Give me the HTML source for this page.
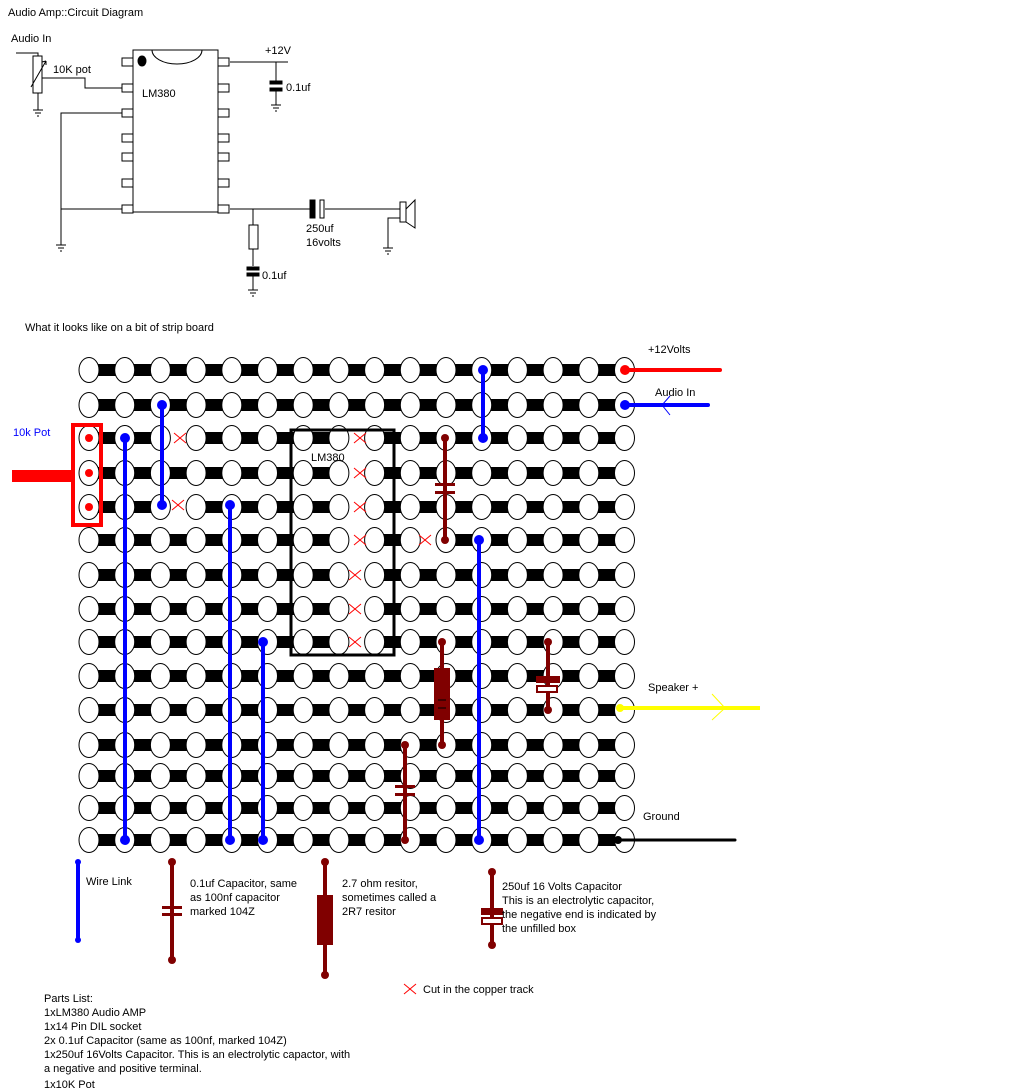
<!DOCTYPE html>
<html><head><meta charset="utf-8"><style>
body{margin:0;background:#fff;width:1024px;height:1090px;overflow:hidden}
svg{display:block}
text{font-family:"Liberation Sans",sans-serif;font-size:11px;fill:#000}
</style></head><body>
<svg id="s" width="1024" height="1090" viewBox="0 0 1024 1090" xmlns="http://www.w3.org/2000/svg">
<g id="sch" stroke="#000" stroke-width="1" fill="none">
<text x="8" y="16" stroke="none">Audio Amp::Circuit Diagram</text>
<text x="11" y="42" stroke="none">Audio In</text>
<text x="53" y="73" stroke="none">10K pot</text>
<text x="142" y="97" stroke="none">LM380</text>
<text x="265" y="54" stroke="none">+12V</text>
<text x="286" y="91" stroke="none">0.1uf</text>
<text x="262" y="279" stroke="none">0.1uf</text>
<text x="306" y="232" stroke="none">250uf</text>
<text x="306" y="246" stroke="none">16volts</text>
<rect x="133" y="50" width="85" height="162"/>
<path d="M152 50 A25 14 0 0 0 202 50"/>
<ellipse cx="142" cy="61" rx="4" ry="5" fill="#000"/>
<g id="pins"></g>
<path d="M16 53H38V56"/><rect x="33" y="56" width="9" height="37"/><path d="M31 87L46 61M46 61l-4 1M46 61l0 4"/>
<path d="M42 78H85V88H122M38 93V110"/>
<path d="M122 113H61V245M61 209H122"/>
<path d="M230 62H288M276 62V81M276 91V105"/>
<rect x="270" y="81" width="12" height="3" fill="#000"/><rect x="270" y="88" width="12" height="3" fill="#000"/>
<path d="M230 209H310M325 209H400"/>
<rect x="310" y="200" width="5" height="18" fill="#000"/><rect x="320" y="200" width="4" height="18"/>
<rect x="400" y="202" width="6" height="20"/><path d="M406 209L415 200V228L406 222"/>
<path d="M400 218H388V248M253 209V225M253 249V266M253 276V290"/>
<rect x="249" y="225" width="9" height="24"/>
<rect x="247" y="267" width="12" height="3" fill="#000"/><rect x="247" y="273" width="12" height="3" fill="#000"/>
<g id="gnds"></g>
</g>
<text x="25" y="331">What it looks like on a bit of strip board</text>
<g id="board"></g>
<g id="over">
<rect x="291" y="430" width="103" height="225" fill="none" stroke="#000" stroke-width="3"/>
<text x="311" y="461">LM380</text>
<rect x="73" y="425" width="28" height="100" fill="none" stroke="#f00" stroke-width="4"/>
<rect x="12" y="470" width="61" height="12" fill="#f00"/>
<circle cx="89" cy="438" r="4" fill="#f00"/><circle cx="89" cy="473" r="4" fill="#f00"/><circle cx="89" cy="507" r="4" fill="#f00"/>
<text x="13" y="436" style="fill:#00f">10k Pot</text>
<g stroke="#00f" stroke-width="4" stroke-linecap="round">
<line x1="125" y1="438" x2="125" y2="840"/><line x1="162" y1="405" x2="162" y2="505"/>
<line x1="230" y1="505" x2="230" y2="840"/><line x1="263" y1="642" x2="263" y2="840"/>
<line x1="483" y1="370" x2="483" y2="438"/><line x1="479" y1="540" x2="479" y2="840"/>
<line x1="78" y1="862" x2="78" y2="940"/>
</g>
<g fill="#00f">
<circle cx="125" cy="438" r="5"/><circle cx="125" cy="840" r="5"/><circle cx="162" cy="405" r="5"/><circle cx="162" cy="505" r="5"/>
<circle cx="230" cy="505" r="5"/><circle cx="230" cy="840" r="5"/><circle cx="263" cy="642" r="5"/><circle cx="263" cy="840" r="5"/>
<circle cx="483" cy="370" r="5"/><circle cx="483" cy="438" r="5"/><circle cx="479" cy="540" r="5"/><circle cx="479" cy="840" r="5"/>
<circle cx="78" cy="862" r="3"/><circle cx="78" cy="940" r="3"/>
</g>
<g stroke="#800000" stroke-width="4" fill="#800000">
<line x1="445" y1="438" x2="445" y2="540"/><rect x="435" y="483" width="20" height="3" stroke="none"/><rect x="435" y="491" width="20" height="3" stroke="none"/>
<line x1="442" y1="642" x2="442" y2="745"/><rect x="434" y="668" width="16" height="52" stroke="none"/>
<line x1="405" y1="745" x2="405" y2="840"/><rect x="395" y="785" width="20" height="3" stroke="none"/><rect x="395" y="793" width="20" height="3" stroke="none"/>
<line x1="548" y1="642" x2="548" y2="710"/><rect x="536" y="676" width="24" height="7" stroke="none"/><rect x="537" y="686" width="20" height="6" fill="#fff" stroke-width="2"/>
<line x1="172" y1="862" x2="172" y2="960"/><rect x="162" y="906" width="20" height="3" stroke="none"/><rect x="162" y="913" width="20" height="3" stroke="none"/>
<line x1="325" y1="862" x2="325" y2="975"/><rect x="317" y="895" width="16" height="50" stroke="none"/>
<line x1="492" y1="872" x2="492" y2="945"/><rect x="481" y="908" width="22" height="7" stroke="none"/><rect x="482" y="918" width="20" height="6" fill="#fff" stroke-width="2"/>
</g>
<g fill="#800000">
<circle cx="445" cy="438" r="4"/><circle cx="445" cy="540" r="4"/><circle cx="442" cy="642" r="4"/><circle cx="442" cy="745" r="4"/>
<circle cx="405" cy="745" r="4"/><circle cx="405" cy="840" r="4"/><circle cx="548" cy="642" r="4"/><circle cx="548" cy="710" r="4"/>
<circle cx="172" cy="862" r="4"/><circle cx="172" cy="960" r="4"/><circle cx="325" cy="862" r="4"/><circle cx="325" cy="975" r="4"/>
<circle cx="492" cy="872" r="4"/><circle cx="492" cy="945" r="4"/>
</g>
<line x1="438" y1="700" x2="446" y2="700" stroke="#000"/><line x1="438" y1="708" x2="446" y2="708" stroke="#000"/>
<line x1="625" y1="370" x2="720" y2="370" stroke="#f00" stroke-width="4" stroke-linecap="round"/><circle cx="625" cy="370" r="5" fill="#f00"/>
<text x="648" y="353">+12Volts</text>
<line x1="625" y1="405" x2="708" y2="405" stroke="#00f" stroke-width="4" stroke-linecap="round"/><circle cx="625" cy="405" r="5" fill="#00f"/>
<path d="M670 396L662 405L670 415" stroke="#00f" fill="none"/>
<text x="655" y="396">Audio In</text>
<line x1="620" y1="708" x2="760" y2="708" stroke="#ff0" stroke-width="4"/><circle cx="620" cy="708" r="4" fill="#ff0"/>
<path d="M712 694L725 708L712 720" stroke="#ff0" fill="none"/>
<text x="648" y="691">Speaker +</text>
<line x1="618" y1="840" x2="735" y2="840" stroke="#000" stroke-width="3" stroke-linecap="round"/><circle cx="618" cy="840" r="4" fill="#000"/>
<text x="643" y="820">Ground</text>
<g id="cuts" stroke="#f00" stroke-width="1"></g>
<text x="86" y="885">Wire Link</text>
<text x="190" y="887">0.1uf Capacitor, same</text><text x="190" y="901">as 100nf capacitor</text><text x="190" y="915">marked 104Z</text>
<text x="342" y="887">2.7 ohm resitor,</text><text x="342" y="901">sometimes called a</text><text x="342" y="915">2R7 resitor</text>
<text x="502" y="890">250uf 16 Volts Capacitor</text><text x="502" y="904">This is an electrolytic capacitor,</text><text x="502" y="918">the negative end is indicated by</text><text x="502" y="932">the unfilled box</text>
<text x="423" y="993">Cut in the copper track</text>
<text x="44" y="1002">Parts List:</text>
<text x="44" y="1016">1xLM380 Audio AMP</text>
<text x="44" y="1030">1x14 Pin DIL socket</text>
<text x="44" y="1044">2x 0.1uf Capacitor (same as 100nf, marked 104Z)</text>
<text x="44" y="1058">1x250uf 16Volts Capacitor. This is an electrolytic capactor, with</text>
<text x="44" y="1072">a negative and positive terminal.</text>
<text x="44" y="1088">1x10K Pot</text>
</g>
</svg>
<script>
var NS="http://www.w3.org/2000/svg";
function el(p,t,a){var e=document.createElementNS(NS,t);for(var k in a)e.setAttribute(k,a[k]);p.appendChild(e);return e;}
var pins=document.getElementById("pins");
[62,88,113,138,157,183,209].forEach(function(y){el(pins,"rect",{x:122,y:y-4,width:11,height:8});el(pins,"rect",{x:218,y:y-4,width:11,height:8});});
var g=document.getElementById("gnds");
[[38,110],[61,245],[276,105],[253,290],[388,248]].forEach(function(p){var x=p[0],y=p[1];
el(g,"line",{x1:x-5,y1:y,x2:x+5,y2:y});el(g,"line",{x1:x-3,y1:y+3,x2:x+3,y2:y+3});el(g,"line",{x1:x-1,y1:y+6,x2:x+1,y2:y+6});});
var b=document.getElementById("board");
var cx=function(c){return 89+35.7*c;};
var ry=[370,405,438,473,507,540,575,609,642,676,710,745,776,808,840];
var cuts={"2_2":1,"4_2":1,"2_7":1,"3_7":1,"4_7":1,"5_7":1,"6_7":1,"7_7":1,"8_7":1,"5_9":1};
ry.forEach(function(y,r){
 for(var c=0;c<15;c++){ if(cuts[r+"_"+c])continue; el(b,"rect",{x:cx(c),y:y-6,width:35.7,height:12,fill:"#000"}); }
 for(var c=0;c<16;c++){ el(b,"ellipse",{cx:cx(c),cy:y,rx:10,ry:12.5,fill:"#fff",stroke:"#000","stroke-width":1}); }
});
var cg=document.getElementById("cuts");
[[180,438],[178,505],[360,438],[360,473],[360,507],[360,540],[355,575],[355,609],[355,642],[425,540],[410,989]].forEach(function(p){
 el(cg,"line",{x1:p[0]-6,y1:p[1]-5,x2:p[0]+6,y2:p[1]+5});el(cg,"line",{x1:p[0]-6,y1:p[1]+5,x2:p[0]+6,y2:p[1]-5});});
</script>
</body></html>
